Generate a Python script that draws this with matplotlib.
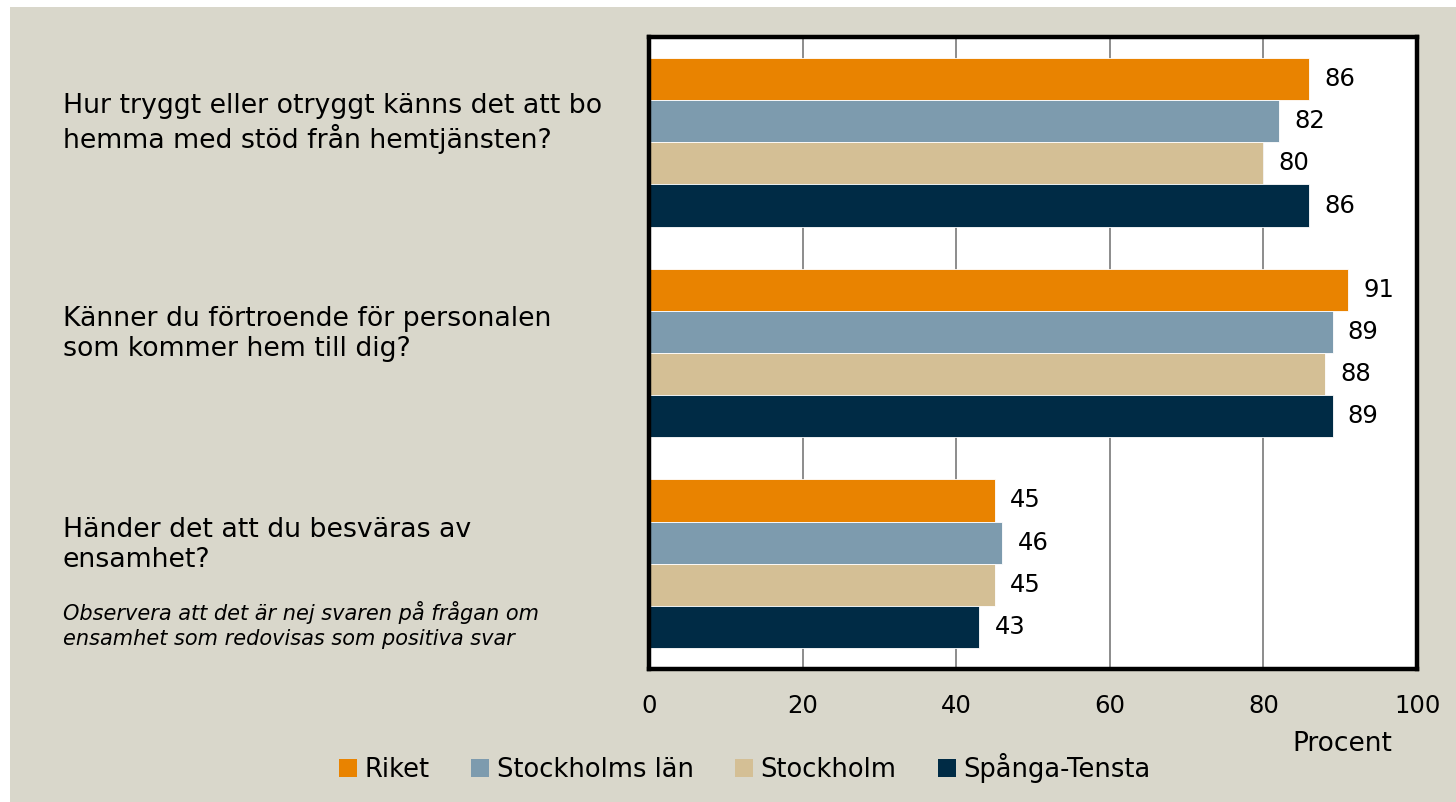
import matplotlib
matplotlib.use('Agg')
import matplotlib.pyplot as plt
from matplotlib.patches import Patch, Rectangle
from matplotlib.transforms import blended_transform_factory
import numpy as np

plt.rcParams['font.family'] = ['DejaVu Sans']

questions = [
    'Hur tryggt eller otryggt känns det att bo\nhemma med stöd från hemtjänsten?',
    'Känner du förtroende för personalen\nsom kommer hem till dig?',
    'Händer det att du besväras av\nensamhet?',
]
note = ('Observera att det är nej svaren på frågan om\n'
        'ensamhet som redovisas som positiva svar')
series = ['Riket', 'Stockholms län', 'Stockholm', 'Spånga-Tensta']
riket = [86, 91, 45]
sthlm_lan = [82, 89, 46]
sthlm = [80, 88, 45]
spanga = [86, 89, 43]
values = [riket, sthlm_lan, sthlm, spanga]
colors = ['#e98300', '#7d9bae', '#d4bf95', '#002b45']
xticks = [0, 20, 40, 60, 80, 100]

fig = plt.figure(figsize=(14.56, 8.02), dpi=100)
fig.patch.set_facecolor('white')
fig.patches.append(Rectangle((10 / 1456, 0), 1 - 10 / 1456, 1 - 7 / 802,
                             transform=fig.transFigure, facecolor='#d9d7cb',
                             edgecolor='none', zorder=-10))

ax = fig.add_axes([649 / 1456, 1 - 669 / 802, 768 / 1456, 632 / 802])
ax.set_facecolor('white')

bar_h = 0.2
y0 = np.arange(len(questions))
for k, (name, vals, col) in enumerate(zip(series, values, colors)):
    ys = y0 - 0.3 + k * bar_h
    ax.barh(ys, vals, height=bar_h, color=col, edgecolor='white',
            linewidth=0.6, label=name, zorder=3)
    for y, v in zip(ys, vals):
        ax.annotate(str(v), (v, y), xytext=(11, 0), textcoords='offset points',
                    va='center', ha='left', fontsize=17.5, color='black')

ax.set_xlim(0, 100)
ax.set_ylim(2.5, -0.5)
ax.set_xticks(xticks)
ax.set_xticklabels([str(t) for t in xticks], fontsize=17.5)
ax.set_yticks([])
ax.tick_params(axis='x', length=0, pad=18)
ax.grid(axis='x', color='#8c8c8c', linewidth=1.4, zorder=0)
for s in ax.spines.values():
    s.set_linewidth(3.2)
    s.set_color('black')
    s.set_zorder(5)

tr = blended_transform_factory(fig.transFigure, ax.transData)
for i, q in enumerate(questions):
    ax.text(63 / 1456, i - 0.09, q, transform=tr, ha='left', va='center',
            fontsize=19.3, linespacing=1.2, clip_on=False)
ax.text(63 / 1456, 2.29, note, transform=tr, ha='left', va='center',
        fontsize=15, style='italic', linespacing=1.3, clip_on=False)

fig.text(1342 / 1456, 1 - 744 / 802, 'Procent', ha='center', va='center',
         fontsize=19)

handles = [Patch(facecolor=c, label=n) for n, c in zip(series, colors)]
fig.legend(handles=handles, loc='center', bbox_to_anchor=(745 / 1456, 1 - 768 / 802),
           ncol=4, frameon=False, fontsize=18.5, handlelength=0.7,
           handleheight=0.7, handletextpad=0.3, columnspacing=1.6)

fig.savefig('out.png', dpi=100)
